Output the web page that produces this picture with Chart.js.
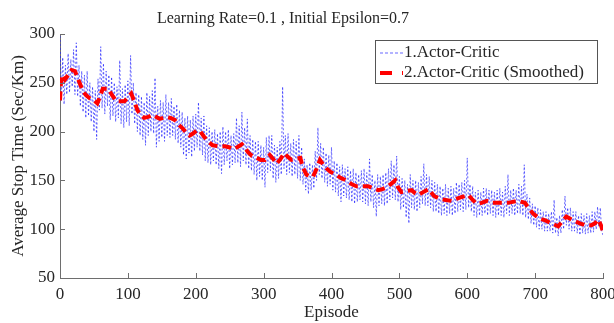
<!DOCTYPE html>
<html>
<head>
<meta charset="utf-8">
<script src="https://cdn.jsdelivr.net/npm/chart.js@4"></script>
<style>
  html, body { margin: 0; padding: 0; background: #fff; }
  #wrap { width: 614px; height: 323px; }
</style>
</head>
<body>
<div id="wrap"><canvas id="chart" width="614" height="323"></canvas></div>
<script>
// Raw episode samples (every 2nd episode)
const rawStep = 2;
const rawValues = [
  298, 232, 276, 228, 268, 238, 280, 240, 274, 246,
  284, 238, 291, 236, 268, 226, 262, 220, 258, 214,
  262, 216, 250, 210, 246, 200, 242, 192, 254, 222,
  287, 224, 270, 218, 262, 226, 258, 212, 256, 216,
  250, 210, 246, 214, 273, 208, 244, 204, 248, 210,
  252, 206, 278, 218, 250, 208, 240, 200, 238, 196,
  236, 192, 230, 186, 240, 196, 236, 200, 242, 198,
  255, 184, 226, 190, 232, 194, 230, 190, 238, 196,
  230, 194, 234, 196, 226, 192, 228, 188, 222, 184,
  220, 176, 214, 172, 216, 178, 212, 174, 216, 180,
  218, 184, 230, 180, 214, 176, 216, 170, 206, 168,
  204, 166, 200, 170, 202, 166, 198, 162, 200, 157,
  205, 166, 200, 170, 202, 162, 196, 166, 198, 168,
  214, 168, 206, 164, 220, 170, 204, 166, 213, 162,
  196, 160, 192, 156, 190, 150, 190, 154, 186, 150,
  184, 143, 194, 158, 196, 160, 196, 152, 186, 148,
  184, 152, 190, 156, 246, 162, 196, 156, 198, 158,
  188, 154, 192, 156, 190, 152, 196, 150, 184, 146,
  172, 140, 166, 136, 168, 140, 166, 142, 180, 150,
  204, 156, 188, 152, 184, 148, 178, 144, 176, 146,
  184, 140, 170, 138, 168, 134, 164, 128, 166, 134,
  162, 132, 164, 130, 160, 128, 162, 126, 158, 128,
  156, 130, 160, 128, 162, 126, 158, 124, 172, 128,
  156, 122, 150, 113, 156, 124, 154, 126, 156, 124,
  158, 126, 162, 130, 170, 132, 166, 130, 175, 128,
  154, 120, 152, 122, 150, 112, 146, 106, 156, 122,
  150, 120, 150, 118, 148, 122, 154, 126, 167, 124,
  156, 124, 154, 122, 150, 118, 148, 118, 146, 116,
  144, 114, 142, 116, 146, 114, 142, 116, 144, 114,
  142, 116, 148, 118, 146, 120, 148, 118, 150, 120,
  173, 122, 146, 118, 144, 114, 138, 112, 140, 114,
  138, 114, 142, 116, 142, 114, 140, 116, 140, 114,
  138, 112, 140, 114, 142, 114, 138, 112, 144, 116,
  156, 114, 140, 116, 142, 114, 140, 116, 146, 116,
  144, 114, 166, 112, 136, 110, 132, 106, 126, 104,
  124, 102, 122, 100, 120, 100, 118, 98, 118, 98,
  116, 98, 118, 96, 130, 96, 112, 93, 114, 96,
  120, 100, 134, 104, 122, 100, 122, 98, 118, 98,
  118, 96, 114, 94, 116, 96, 114, 95, 116, 96,
  114, 96, 118, 97, 118, 100, 123, 102, 122, 98,
  94
];

// Smoothed curve
const smoothEpisodes = [
  0, 2, 7, 12, 17, 22, 26, 30, 34, 39, 44, 50, 55, 59, 63, 71, 77, 83, 89, 95,
  100, 105, 110, 114, 119, 124, 130, 137, 142, 147, 152, 157, 163, 169, 175, 181, 186, 191, 196, 201,
  206, 212, 218, 225, 233, 238, 243, 249, 255, 261, 268, 272, 277, 283, 290, 296, 302, 309, 314, 319,
  325, 330, 336, 341, 347, 354, 358, 363, 368, 373, 378, 383, 388, 393, 398, 403, 408, 415, 422, 430,
  437, 445, 454, 461, 469, 475, 481, 487, 494, 498, 503, 510, 518, 523, 528, 535, 543, 551, 560, 568,
  577, 584, 592, 597, 602, 608, 614, 621, 629, 637, 646, 653, 660, 667, 675, 680, 685, 691, 697, 706,
  715, 724, 734, 740, 746, 756, 766, 774, 783, 788, 793, 797, 800
];
const smoothValues = [
  232, 258, 253, 258, 263, 262, 255, 248, 241, 237, 234, 232, 229, 236, 244, 244, 237, 231, 231, 231,
  235, 239, 230, 222, 217, 214, 215, 217, 215, 213, 214, 215, 214, 212, 207, 203, 199, 196, 198, 201,
  201, 195, 190, 186, 185, 185, 185, 184, 182, 184, 187, 184, 179, 175, 173, 171, 171, 176, 172, 167,
  172, 178, 174, 171, 172, 173, 163, 156, 154, 154, 162, 171, 166, 162, 159, 157, 155, 152, 150, 146,
  144, 144, 144, 142, 140, 141, 143, 146, 150, 143, 138, 139, 140, 137, 135, 138, 141, 134, 131, 130,
  129, 131, 133, 134, 135, 130, 126, 127, 129, 127, 127, 127, 127, 128, 129, 128, 127, 121, 116, 111,
  109, 106, 103, 108, 113, 109, 106, 104, 104, 106, 110, 104, 97
];

const xTicks = [0, 100, 200, 300, 400, 500, 600, 700, 800];
const yTicks = [50, 100, 150, 200, 250, 300];

const titleText = "Learning Rate=0.1 , Initial Epsilon=0.7";
const seriesNames = ["1.Actor-Critic", "2.Actor-Critic (Smoothed)"];

const serif = "'Liberation Serif', 'Times New Roman', serif";
const axisGray = "#6e6e6e";
const textColor = "#262626";

Chart.defaults.font.family = serif;
Chart.defaults.color = textColor;

const rawPoints = rawValues.map((v, i) => ({ x: i * rawStep, y: v }));
const smoothPoints = smoothValues.map((v, i) => ({ x: smoothEpisodes[i], y: v }));

// title, inward ticks and the boxed legend, MATLAB style
const decorations = {
  id: "decorations",
  afterDraw(chart) {
    const { ctx, chartArea, scales } = chart;
    ctx.save();

    ctx.strokeStyle = axisGray;
    ctx.lineWidth = 1;
    ctx.beginPath();
    scales.x.ticks.forEach(t => {
      const px = Math.round(scales.x.getPixelForValue(t.value)) + 0.5;
      ctx.moveTo(px, chartArea.bottom);
      ctx.lineTo(px, chartArea.bottom - 5);
    });
    scales.y.ticks.forEach(t => {
      const py = Math.round(scales.y.getPixelForValue(t.value)) + 0.5;
      ctx.moveTo(chartArea.left, py);
      ctx.lineTo(chartArea.left + 5, py);
    });
    ctx.stroke();

    ctx.fillStyle = textColor;
    ctx.font = "16px " + serif;
    ctx.textAlign = "center";
    ctx.textBaseline = "middle";
    ctx.fillText(titleText, 283, 19);

    // legend box
    const bx = 375.5, by = 40.5, bw = 222, bh = 43;
    ctx.fillStyle = "#fff";
    ctx.fillRect(bx, by, bw, bh);
    ctx.strokeStyle = "#555";
    ctx.strokeRect(bx, by, bw, bh);

    const ds = chart.data.datasets;
    const rows = [53, 73];
    rows.forEach((ry, i) => {
      ctx.beginPath();
      ctx.strokeStyle = ds[i].borderColor;
      ctx.lineWidth = i === 0 ? 0.8 : 4;
      ctx.setLineDash(i === 0 ? [3, 2] : [12, 10]);
      ctx.moveTo(380, ry);
      ctx.lineTo(403, ry);
      ctx.stroke();
      ctx.setLineDash([]);
      ctx.fillStyle = textColor;
      ctx.font = "17px " + serif;
      ctx.textAlign = "left";
      ctx.textBaseline = "middle";
      ctx.fillText(seriesNames[i], 404, ry);
    });

    ctx.restore();
  }
};

new Chart(document.getElementById("chart"), {
  type: "line",
  data: {
    datasets: [
      {
        label: seriesNames[0],
        data: rawPoints,
        borderColor: "rgba(30, 30, 255, 0.85)",
        borderWidth: 0.8,
        borderDash: [2, 2],
        pointRadius: 0,
        tension: 0,
        order: 2
      },
      {
        label: seriesNames[1],
        data: smoothPoints,
        borderColor: "rgb(255, 0, 0)",
        borderWidth: 4,
        borderDash: [9, 5],
        pointRadius: 0,
        tension: 0,
        order: 1
      }
    ]
  },
  options: {
    responsive: false,
    animation: false,
    layout: { padding: { top: 34, right: 11, left: 0, bottom: 0 } },
    plugins: {
      legend: { display: false },
      title: { display: false },
      tooltip: { enabled: false }
    },
    scales: {
      x: {
        type: "linear",
        min: 0,
        max: 800,
        afterBuildTicks: s => { s.ticks = xTicks.map(v => ({ value: v })); },
        afterFit: s => { s.height = 45; s.paddingLeft = 0; s.paddingRight = 0; },
        grid: { display: false, drawTicks: false },
        border: { display: true, color: axisGray, width: 1 },
        ticks: { padding: 6, maxRotation: 0, font: { size: 17 }, color: textColor },
        title: { display: true, text: "Episode", font: { size: 17 }, color: textColor, padding: { top: 0, bottom: 0 } }
      },
      y: {
        min: 50,
        max: 300,
        afterBuildTicks: s => { s.ticks = yTicks.map(v => ({ value: v })); },
        afterFit: s => { s.width = 60; s.paddingTop = 0; s.paddingBottom = 0; },
        grid: { display: false, drawTicks: false },
        border: { display: true, color: axisGray, width: 1 },
        ticks: { padding: 5, font: { size: 17 }, color: textColor },
        title: { display: true, text: "Average Stop Time (Sec/Km)", font: { size: 17 }, color: textColor, padding: { top: 8, bottom: 0 } }
      }
    }
  },
  plugins: [decorations]
});
</script>
</body>
</html>
